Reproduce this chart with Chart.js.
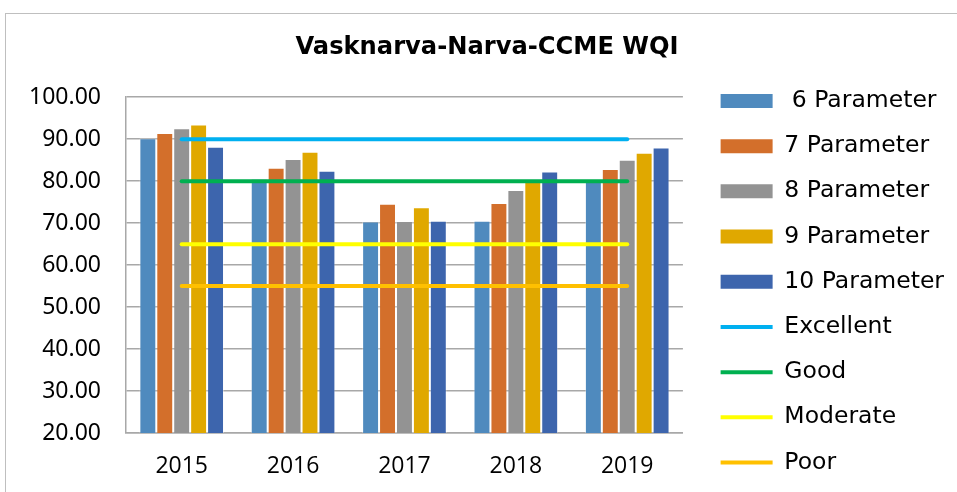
<!DOCTYPE html>
<html>
<head>
<meta charset="utf-8">
<script src="https://cdn.jsdelivr.net/npm/chart.js@4"></script>
<style>
  html, body { margin: 0; padding: 0; background: #fff; }
  #wrap { position: relative; width: 957px; height: 492px; overflow: hidden; }
  #frame { position: absolute; left: 5px; top: 13px; width: 1000px; height: 600px; border: 1px solid #bfbfbf; }
  canvas { position: absolute; left: 0; top: 0; }
</style>
</head>
<body>
<div id="wrap">
  <div id="frame"></div>
  <canvas id="wqi" width="957" height="496"></canvas>
</div>
<script>
var years = ["2015", "2016", "2017", "2018", "2019"];
var param6 = [90.2, 80.6, 70.4, 70.6, 80.0];
var param7 = [91.5, 83.2, 74.6, 74.8, 82.9];
var param8 = [92.6, 85.3, 70.5, 77.9, 85.1];
var param9 = [93.5, 87.0, 73.8, 79.8, 86.8];
var param10 = [88.2, 82.5, 70.6, 82.3, 88.0];
var excellent = [90, 90, 90, 90, 90];
var good = [80, 80, 80, 80, 80];
var moderate = [65, 65, 65, 65, 65];
var poor = [55, 55, 55, 55, 55];

function bar(label, data, color) {
  return {
    type: 'bar', label: label, data: data,
    backgroundColor: color, borderColor: 'rgba(255,255,255,0.35)', borderWidth: 1,
    barPercentage: 1, categoryPercentage: 0.76, order: 2
  };
}
function level(label, data, color) {
  return {
    type: 'line', label: label, data: data,
    borderColor: color, backgroundColor: color, borderWidth: 4,
    borderCapStyle: 'round', pointRadius: 0, fill: false, order: 1
  };
}

var ctx = document.getElementById('wqi').getContext('2d');
var chart = new Chart(ctx, {
  data: {
    labels: years,
    datasets: [
      bar(" 6 Parameter", param6, "#4f8abe"),
      bar("7 Parameter", param7, "#d36f2b"),
      bar("8 Parameter", param8, "#939393"),
      bar("9 Parameter", param9, "#e0a800"),
      bar("10 Parameter", param10, "#3d65ad"),
      level("Excellent", excellent, "#00b0f0"),
      level("Good", good, "#00b050"),
      level("Moderate", moderate, "#ffff00"),
      level("Poor", poor, "#ffc000")
    ]
  },
  options: {
    responsive: false,
    animation: false,
    layout: { padding: { left: 20, right: 3, top: 0, bottom: 0 } },
    plugins: {
      tooltip: { enabled: false },
      title: {
        display: true,
        text: "Vasknarva-Narva-CCME WQI",
        color: "#000",
        font: { family: "'DejaVu Sans'", size: 24.2, weight: 'bold' },
        padding: { top: 33.6, bottom: 34.6 }
      },
      legend: {
        position: 'right',
        align: 'end',
        weight: 3000,
        maxWidth: 300,
        labels: {
          color: "#000",
          font: { family: "'DejaVu Sans'", size: 23.5 },
          usePointStyle: true,
          pointStyleWidth: 52,
          boxHeight: 14,
          padding: 21.7,
          sort: function (a, b) { return a.datasetIndex - b.datasetIndex; },
          generateLabels: function (c) {
            var items = Chart.defaults.plugins.legend.labels.generateLabels(c);
            items.forEach(function (it) {
              var ds = c.data.datasets[it.datasetIndex];
              if (ds.type === 'line') {
                it.pointStyle = 'line';
                it.strokeStyle = ds.borderColor;
                it.lineWidth = 4;
              } else {
                it.pointStyle = 'rect';
                it.fillStyle = ds.backgroundColor;
                it.strokeStyle = ds.backgroundColor;
                it.lineWidth = 0;
              }
            });
            return items;
          }
        }
      }
    },
    scales: {
      x: {
        grid: { display: false, drawTicks: false },
        border: { display: true, color: "#a8a8a8", width: 1.5 },
        ticks: { color: "#000", padding: 20, font: { family: "'Open Sans'", size: 23 } },
        afterFit: function (s) { s.height = 63; }
      },
      y: {
        min: 20, max: 100,
        grid: { color: "#a8a8a8", lineWidth: 1.5, drawTicks: false },
        border: { display: true, color: "#a8a8a8", width: 1.5 },
        ticks: {
          stepSize: 10, padding: 25, color: "#000",
          font: { family: "'Noto Sans'", size: 23 },
          callback: function (v) { return v.toFixed(2); }
        },
        afterFit: function (s) { s.width = 106; }
      },
      gap: {
        type: 'linear', position: 'right', display: true,
        grid: { display: false, drawTicks: false },
        border: { display: false },
        ticks: { display: false },
        afterFit: function (s) { s.width = 16; }
      }
    }
  }
});
</script>
</body>
</html>
